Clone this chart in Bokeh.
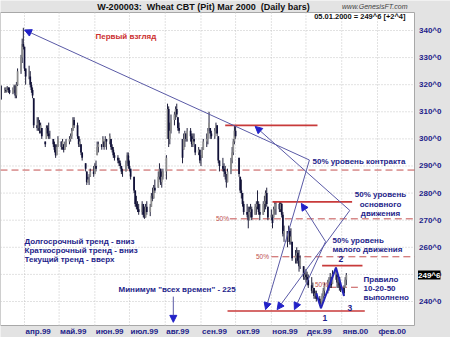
import numpy as np
import pandas as pd
from bokeh.plotting import figure
from bokeh.models import Range1d, Label, Arrow, NormalHead
from bokeh.embed import file_html
from bokeh.resources import INLINE

# ---------------- data ----------------
FIRST_BAR = "1999-03-12"
high = [
    319.7, 319, 319, 319.5, 319, 319, 319, 320, 320, 321,
    326, 331, 337, 341, 334, 326, 327, 325, 321, 319,
    315, 308, 308, 307, 306, 304, 299, 305, 305, 306,
    303, 300, 299, 298, 298, 301, 299, 300, 298, 299,
    300, 301, 302, 304, 308, 308, 306, 301, 300, 298,
    295, 291, 288, 286, 287, 289, 290, 291, 292, 299,
    299, 298, 301, 299, 301, 300, 302, 300, 298, 297,
    295, 294, 293, 292, 290, 289, 292, 295, 295, 292,
    289, 286, 281, 279, 277, 276, 277, 276, 275, 276,
    277, 276, 280, 282, 283, 285, 288, 291, 289, 288,
    289, 294, 313, 312, 306, 309, 310, 312, 313, 308,
    306, 300, 302, 303, 302, 304, 304, 302, 302, 302,
    298, 297, 296, 294, 297, 300, 302, 304, 310, 304,
    303, 304, 306, 305, 301, 292, 293, 291, 290, 287,
    289, 293, 297, 300, 305, 305, 293, 286, 285, 280,
    277, 276, 275, 275, 276, 275, 276, 277, 281, 277,
    276, 277, 279, 281, 282, 275, 274, 272, 275, 277,
    277, 277, 277, 276.5, 273, 268, 266, 268, 267, 267,
    262, 259, 260, 259, 259, 257, 253, 251, 252, 251,
    250, 249, 247, 245, 244, 244, 242, 240, 243, 245,
    247, 248, 249, 250.5, 249, 251.5, 252.5, 250, 250, 249,
    247, 246, 249, 250.5,
]
low = [
    314.5, 317, 317, 317.5, 317, 316.5, 316.5, 317, 315, 315,
    319.5, 324, 328, 333, 325, 320, 322, 319, 317, 315,
    304, 303, 303, 302, 302, 300, 297, 300, 301, 300,
    300, 297, 295, 293, 294, 297, 296, 296, 295, 296,
    297, 298, 299, 300, 303, 304, 300, 297, 297, 294,
    292, 288, 283, 284, 283, 286, 286, 287, 288, 294,
    295, 296, 297, 296, 297, 296, 298, 296, 295, 293,
    292, 291, 290, 289, 287, 286, 288, 291, 289, 288,
    285, 280, 275, 274, 273, 272, 272, 271, 270.5, 271,
    272, 271.5, 275, 277, 278, 280, 282, 285, 283, 282,
    285, 285, 300, 297, 298, 302, 305, 307, 308, 303,
    302, 291, 296, 297, 299, 299, 299, 297, 297, 298,
    294, 294, 291, 290, 293, 296, 297, 298, 303, 300,
    300, 300, 302, 301, 291, 288, 288, 286, 285, 282,
    284, 287, 291, 294, 298, 300, 286, 280, 278, 275,
    272, 271, 267, 270, 271, 270, 272, 272, 274, 272,
    270, 272, 273, 274, 275, 270, 270, 267, 271, 272,
    272, 273, 273, 271, 264, 262, 260, 262, 261, 261,
    255, 254, 254, 254, 251, 252, 248, 248, 247, 246,
    245, 243, 243, 241, 241, 240, 238.5, 237.5, 239, 241,
    242, 243, 244, 245, 245, 246.5, 248, 245, 245, 244,
    243.5, 242, 245, 246,
]
close = [
    315, 318, 317.5, 319, 318, 317, 318, 319.5, 316, 320,
    325, 330, 335, 334, 326, 323, 323, 320, 318, 316,
    305, 304, 306, 303, 305, 301, 298, 304, 302, 301,
    301, 298, 296, 294, 297, 300, 297, 299, 296, 298,
    299, 300, 301, 303, 307, 305, 301, 298, 299, 295,
    293, 289, 284, 285, 285, 288, 287, 290, 289, 297,
    298, 297, 300, 297, 300, 299, 301, 297, 296, 294,
    293, 292, 291, 290, 288, 288, 291, 294, 290, 289,
    286, 281, 276, 275, 274, 273, 276, 272, 271, 275,
    273, 275, 279, 278, 282, 281, 286, 289, 284, 286,
    288, 293, 311, 300, 303, 307, 309, 311, 309, 304,
    303, 293, 300, 302, 300, 303, 301, 298, 300, 299,
    295, 296, 292, 292, 296, 299, 300, 303, 306, 302,
    301, 303, 305, 302, 292, 290, 289, 288, 287, 284,
    288, 292, 295, 299, 303, 301, 287, 281, 280, 276,
    273, 272, 270, 273, 274, 271, 275, 276, 276, 273,
    272, 276, 277, 280, 276, 271, 272, 269, 274, 276,
    276, 274, 276, 272, 265, 266, 262, 266, 262, 264,
    256, 257, 258, 255, 253, 256, 249, 250, 249, 248,
    246, 244, 245, 242, 243, 241, 239, 239, 242, 244,
    246, 247, 248, 249, 246, 250, 251, 247, 249, 246,
    245, 243, 248, 249.75,
]

month_starts = ["1999-04-01", "1999-05-01", "1999-06-01", "1999-07-01", "1999-08-01",
                "1999-09-01", "1999-10-01", "1999-11-01", "1999-12-01", "2000-01-01",
                "2000-02-01"]
month_labels = ["апр.99", "май.99", "июн.99", "июл.99", "авг.99", "сен.99",
                "окт.99", "ноя.99", "дек.99", "янв.00", "фев.00"]
price_ticks = [240, 250, 260, 270, 280, 290, 300, 310, 320, 330, 340]
price_labels = ["240^0", "250^0", "260^0", "270^0", "280^0", "290^0",
                "300^0", "310^0", "320^0", "330^0", "340^0"]
last_label = "249^6"

# horizontal levels (price, start date, end date)
solid_levels = [305.0, 276.75, 253.25, 236.5]
solid_from = ["1999-09-22", "1999-11-02", "1999-12-15", "1999-09-24"]
solid_to = ["1999-12-11", "2000-01-10", "2000-01-19", "2000-01-21"]
half_levels = [288.5, 270.5, 256.5, 245.25]
half_from = ["1999-03-01", "1999-09-26", "1999-11-01", "1999-12-21"]
half_to = ["2000-03-31", "2000-03-31", "2000-03-31", "2000-01-15"]

# arrows: start date, start price, end date, end price
arr_x0 = ["1999-12-04", "1999-12-04", "2000-01-08", "2000-01-08", "1999-12-18", "1999-12-18", "1999-08-08"]
arr_y0 = [292.2, 292.2, 273.6, 273.6, 262.1, 262.1, 241.8]
arr_x1 = ["1999-04-01", "1999-10-27", "1999-10-18", "1999-11-06", "1999-11-27", "1999-11-21", "1999-08-08"]
arr_y1 = [340.2, 237.0, 304.6, 237.0, 276.2, 237.0, 232.3]

# 1-2-3 pattern
pat_dates = ["1999-12-10", "1999-12-14", "1999-12-27", "2000-01-03"]
pat_prices = [243.0, 237.5, 252.5, 242.0]

# ---------------- helpers ----------------
ORIGIN = pd.Timestamp("1999-04-01")


def day(d):
    return (pd.Timestamp(d) - ORIGIN) / pd.Timedelta(days=1)


# plot area (data) and its pixel box inside the 450x337 canvas
X0, X1 = -20.8, 338.1
Y0, Y1 = 231.14, 346.64
FL, FT, FW, FH = 0.0, 12.0, 414.0, 313.0
W, HT = 450, 337
SX = (X1 - X0) / FW
SY = (Y1 - Y0) / FH


def PX(px):
    return X0 + (px - FL) * SX


def PY(py):
    return Y1 - (py - FT) * SY


NAVY = "#1e1e8a"
RED = "#c83a3a"
LINE = "#5a5aa6"
FONT = "Liberation Sans"

dates = pd.bdate_range(FIRST_BAR, periods=len(close))
xb = np.array([day(d) for d in dates])
H = np.array(high)
L = np.array(low)
C = np.array(close)
O = np.concatenate([[C[0]], C[:-1]])
O = np.clip(O, L, H)
top = np.maximum(O, C)
bot = np.minimum(O, C)
body_col = ["#8e8e8e" if c >= o else "#101038" for o, c in zip(O, C)]

p = figure(width=W, height=HT, x_range=Range1d(PX(0), PX(W)), y_range=Range1d(PY(HT), PY(0)),
           x_axis_location=None, y_axis_location=None, toolbar_location=None,
           output_backend="svg", min_border=0,
           background_fill_color="#e3e3e3", border_fill_color="#e3e3e3",
           outline_line_color=None)
p.grid.visible = False

# white plotting area
p.quad(left=[X0], right=[X1], top=[Y1], bottom=[Y0], fill_color="white",
       line_color="#a8a8a8", line_width=1)

# grid
mdays = [day(m) for m in month_starts]
p.segment(x0=mdays, y0=[Y0] * len(mdays), x1=mdays, y1=[Y1] * len(mdays),
          line_color="#c4c4c4", line_dash="1 2", line_width=1)
p.segment(x0=[X0] * len(price_ticks), y0=price_ticks, x1=[X1] * len(price_ticks),
          y1=price_ticks, line_color="#c4c4c4", line_dash="1 2", line_width=1)

# dashed 50% levels
for lv, a, b in zip(half_levels, half_from, half_to):
    p.segment(x0=[max(day(a), X0)], y0=[lv], x1=[min(day(b), X1)], y1=[lv],
              line_color="#c45050", line_width=1, line_dash="7 4")

# bars
p.segment(x0=xb, y0=L, x1=xb, y1=H, line_color="#20203c", line_width=1)
p.vbar(x=xb, width=1.5, top=top, bottom=bot, fill_color=body_col, line_color=None)

# solid red levels
for lv, a, b in zip(solid_levels, solid_from, solid_to):
    p.segment(x0=[day(a)], y0=[lv], x1=[day(b)], y1=[lv], line_color=RED, line_width=1.6)

# 1-2-3 pattern
p.line([day(d) for d in pat_dates], pat_prices, line_color="#2424b8", line_width=2)

# arrows
for a0, b0, a1, b1 in zip(arr_x0, arr_y0, arr_x1, arr_y1):
    p.add_layout(Arrow(end=NormalHead(size=7, fill_color="#2222c8", line_color="#2222c8"),
                       x_start=day(a0), y_start=b0, x_end=day(a1), y_end=b1,
                       line_color=LINE, line_width=1))


def lab(text, px, py, size="8px", color=NAVY, align="left", style="bold", base="middle", **kw):
    p.add_layout(Label(x=PX(px), y=PY(py), text=text, text_font=FONT, text_font_size=size,
                       text_color=color, text_align=align, text_font_style=style,
                       text_baseline=base, **kw))


# title area
lab("W-200003:\u00a0 Wheat CBT (Pit) Mar 2000\u00a0 (Daily bars)", 203, 6.5, size="9px",
    color="#101010", align="center")
lab("www.GenesisFT.com", 407, 5.5, size="7px", color="#404040", align="right", style="italic")
lab("05.01.2000 = 249^6 [+2^4]", 405, 15.5, size="7.5px", color="#101010", align="right")

# annotations
lab("Первый взгляд", 95, 36, color="#cc3030")
lab("Долгосрочный тренд - вниз", 24, 240.5)
lab("Краткосрочный тренд - вниз", 24, 249.5)
lab("Текущий тренд - вверх", 24, 258.5)
lab("Минимум \"всех времен\" - 225", 118, 288.5)
lab("50% уровень контракта", 312, 160.5)
lab("50% уровень", 380, 194, align="center")
lab("основного", 380, 203.5, align="center")
lab("движения", 380, 212.5, align="center")
lab("50% уровень", 332, 240)
lab("малого движения", 332, 249)
lab("Правило", 363, 279)
lab("10-20-50", 363, 288)
lab("выполнено", 363, 297)
lab("1", 322, 317, size="8.5px")
lab("2", 338, 258, size="8.5px")
lab("3", 347, 307.5, size="8.5px")
for px, py in [(228.5, 218), (268.5, 255.5), (327.5, 284)]:
    lab("50%", px, py, size="6.5px", color="#c05050", align="right", style="normal")

# right price axis labels
for t, s in zip(price_ticks, price_labels):
    y = FT + (Y1 - t) / SY
    lab(s, 418.5, y, size="8px")
ylast = FT + (Y1 - close[-1]) / SY
lab(last_label, 417.5, ylast, size="8px", color="white", background_fill_color="black")

# month labels
for m, s in zip(month_starts, month_labels):
    px = FL + (day(m) - X0) / SX
    lab(s, px + 1, 331, size="8px")

open("out.html", "w").write(file_html(p, INLINE))
